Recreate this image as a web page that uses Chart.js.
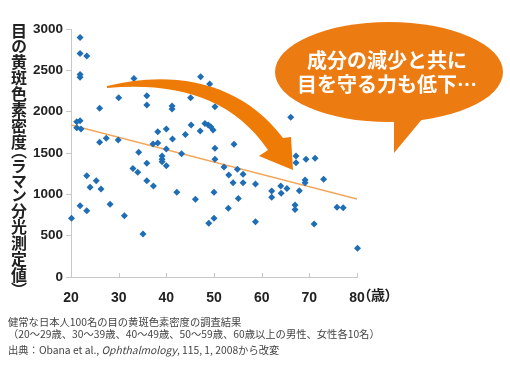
<!DOCTYPE html>
<html>
<head>
<meta charset="utf-8">
<script src="https://cdn.jsdelivr.net/npm/chart.js@4.4.0/dist/chart.umd.min.js"></script>
<style>
html, body { margin: 0; padding: 0; background: #fff; }
#wrap { position: relative; width: 510px; height: 365px; overflow: hidden; }
#myChart { position: absolute; left: 0; top: 0; }
.ytitle { position: absolute; left: 11px; top: 23px; writing-mode: vertical-rl; font: bold 16px "Noto Sans CJK JP"; line-height: 1; color: #222; font-feature-settings: "vpal"; }
.unit { position: absolute; left: 364px; top: 286px; font: bold 14px/16px "Noto Sans CJK JP"; color: #222; font-feature-settings: "palt"; }
.bubble { position: absolute; left: 287px; top: 48px; width: 200px; text-align: center; font: bold 20px/24px "Noto Sans CJK JP"; color: #fff; }
.cap { position: absolute; left: 8px; font: 10.3px/12px "Noto Sans CJK JP"; color: #444; white-space: nowrap; }
</style>
</head>
<body>
<div id="wrap">
  <canvas id="myChart" width="510" height="365"></canvas>
  <div class="ytitle">目の黄斑色素密度（ラマン分光測定値）</div>
  <div class="unit">（歳）</div>
  <div class="bubble">成分の減少と共に<br>目を守る力も低下…</div>
  <div class="cap" style="top:316px">健常な日本人100名の目の黄斑色素密度の調査結果</div>
  <div class="cap" style="top:328px">（20〜29歳、30〜39歳、40〜49歳、50〜59歳、60歳以上の男性、女性各10名）</div>
  <div class="cap" style="top:344px">出典：Obana et al., <i>Ophthalmology</i>, 115, 1, 2008から改変</div>
</div>
<script>
// ages and macular pigment density
const ages = [21.9, 21.9, 23.3, 21.9, 21.9, 33.2, 47.2, 49.1, 45.2, 30.0,
  35.9, 35.9, 26.0, 41.2, 41.2, 45.1, 50.2, 21.9, 21.2, 21.2,
  22.1, 26.0, 27.4, 29.9, 34.2, 37.2, 38.2, 38.2, 40.0, 41.3,
  40.0, 43.2, 44.0, 45.2, 47.1, 48.1, 48.8, 49.3, 49.8, 54.2,
  50.2, 50.2, 52.1, 39.1, 39.1, 39.1, 40.0, 23.3, 25.3, 24.0,
  26.3, 33.0, 34.0, 35.9, 35.9, 37.3, 42.2, 46.1, 50.0, 21.9,
  23.3, 28.2, 20.1, 31.2, 35.1, 48.9, 50.0, 53.1, 54.9, 56.1,
  54.0, 56.1, 58.7, 62.1, 62.1, 55.1, 53.0, 58.7, 67.2, 67.2,
  69.3, 71.2, 69.1, 69.1, 73.0, 64.0, 65.3, 64.1, 67.9, 67.0,
  67.0, 75.8, 77.1, 71.0, 80.1, 66.1]
const density = [2898, 2705, 2672, 2450, 2415, 2402, 2422, 2334, 2294, 2168,
  2192, 2080, 2040, 2068, 2031, 2168, 2060, 1890, 1878, 1805,
  1790, 1629, 1677, 1656, 1508, 1608, 1620, 1757, 1790, 1669,
  1548, 1491, 1725, 1838, 1765, 1858, 1838, 1817, 1778, 1605,
  1556, 1423, 1330, 1463, 1423, 1394, 1346, 1225, 1165, 1085,
  1064, 1314, 1266, 1375, 1165, 1100, 1024, 940, 1024, 862,
  802, 879, 710, 741, 520, 649, 710, 1233, 1302, 1242,
  1140, 1140, 1125, 1040, 964, 951, 831, 669, 1463, 1382,
  1423, 1435, 1173, 1140, 1181, 1100, 1072, 1012, 1044, 871,
  818, 843, 838, 641, 347, 1931]

// regression line end points
const trendAges = [20, 80]
const trendValues = [1838, 943]

const xTicks = [20, 30, 40, 50, 60, 70, 80]
const yTicks = [0, 500, 1000, 1500, 2000, 2500, 3000]

const points = ages.map((a, i) => ({ x: a, y: density[i] }))
const trend = trendAges.map((a, i) => ({ x: a, y: trendValues[i] }))

// inward tick marks on x axis, the curved arrow and the speech bubble
const decor = {
  id: 'decor',
  afterDraw(chart) {
    const ctx = chart.ctx
    const xs = chart.scales.x
    ctx.save()
    ctx.strokeStyle = '#c8c8c8'
    ctx.lineWidth = 1
    xTicks.forEach(t => {
      const px = Math.round(xs.getPixelForValue(t)) + 0.5
      ctx.beginPath()
      ctx.moveTo(px, xs.top)
      ctx.lineTo(px, xs.top - 4)
      ctx.stroke()
    })

    // curved arrow
    ctx.fillStyle = '#ee7b06'
    ctx.beginPath()
    ctx.moveTo(107, 86)
    ctx.bezierCurveTo(170, 70, 240, 80, 283, 138)
    ctx.lineTo(291, 137)
    ctx.lineTo(293, 170)
    ctx.lineTo(259, 156)
    ctx.lineTo(268, 150)
    ctx.bezierCurveTo(232, 97, 175, 82, 107, 88)
    ctx.closePath()
    ctx.fill()

    // speech bubble
    ctx.fillStyle = '#ec7b12'
    ctx.beginPath()
    ctx.ellipse(389, 72, 114, 50, 0, 0, Math.PI * 2)
    ctx.fill()
    ctx.beginPath()
    ctx.moveTo(394, 112)
    ctx.lineTo(394, 153)
    ctx.lineTo(428, 112)
    ctx.closePath()
    ctx.fill()
    ctx.restore()
  }
}

const ctx = document.getElementById('myChart')

new Chart(ctx, {
  type: 'scatter',
  data: {
    datasets: [{
      data: points,
      pointStyle: 'rectRot',
      pointRadius: 3.5,
      backgroundColor: '#1f6db5',
      borderColor: '#1f6db5',
      borderWidth: 0,
      clip: false
    }, {
      data: trend,
      showLine: true,
      pointRadius: 0,
      borderColor: '#f2a65a',
      borderWidth: 1.5
    }]
  },
  options: {
    responsive: false,
    animation: false,
    layout: { padding: { left: 0, top: 29, right: 153, bottom: 0 } },
    plugins: { legend: { display: false }, tooltip: { enabled: false } },
    scales: {
      x: {
        type: 'linear',
        min: 20,
        max: 80,
        afterFit: s => { s.height = 88 },
        afterBuildTicks: s => { s.ticks = xTicks.map(v => ({ value: v })) },
        grid: { display: false },
        border: { display: true, color: '#c8c8c8' },
        ticks: { padding: 5, color: '#222', font: { family: 'Liberation Sans', size: 14, weight: 'bold' } }
      },
      y: {
        min: 0,
        max: 3000,
        afterFit: s => { s.width = 71 },
        afterBuildTicks: s => { s.ticks = yTicks.map(v => ({ value: v })) },
        grid: { drawOnChartArea: false, drawTicks: true, tickLength: 5, color: '#c8c8c8' },
        border: { display: true, color: '#c8c8c8' },
        ticks: { padding: 3, color: '#222', callback: v => String(v), font: { family: 'Liberation Sans', size: 13.5, weight: 'bold' } }
      }
    }
  },
  plugins: [decor]
})
</script>
</body>
</html>
